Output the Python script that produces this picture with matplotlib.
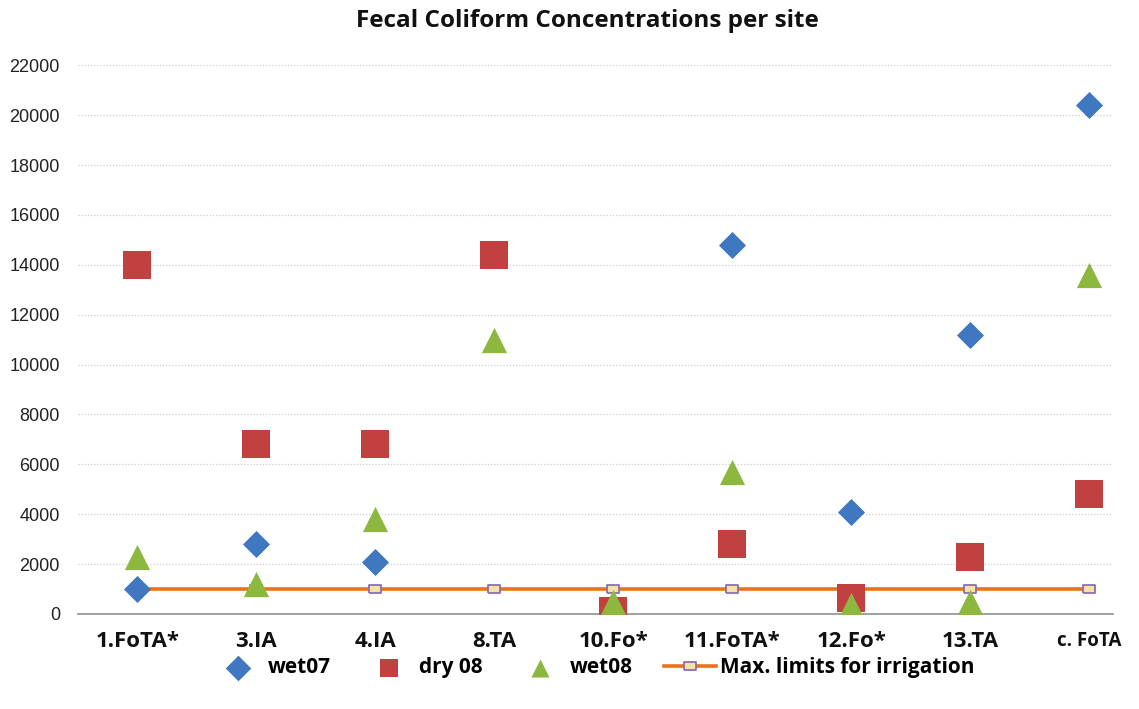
"""
Fecal coliform concentrations per sampling site,
with the maximum limit for irrigation water as a reference line.
"""

import matplotlib
matplotlib.use("Agg")
import matplotlib.pyplot as plt

# Sampling sites and measured concentrations
sites = ["1.FoTA*", "3.IA", "4.IA", "8.TA", "10.Fo*", "11.FoTA*", "12.Fo*", "13.TA", "c. FoTA"]
wet07 = [1000, 2800, 2100, None, None, 14800, 4100, 11200, 20400]
dry08 = [14000, 6800, 6800, 14400, 100, 2800, 650, 2300, 4800]
wet08 = [2300, 1200, 3800, 11000, 500, 5700, 350, 500, 13600]
max_limit = [1000] * len(sites)

y_ticks = list(range(0, 22001, 2000))

BLUE = "#3f78c1"
RED = "#c0413f"
GREEN = "#8db840"
ORANGE = "#e8731e"
PURPLE = "#8a6fb5"


def _series(values):
    """Keep only the sites that have a measurement."""
    xs = [i for i, v in enumerate(values) if v is not None]
    ys = [v for v in values if v is not None]
    return xs, ys


fig = plt.figure(figsize=(11.39, 7.09), dpi=100)
ax = fig.add_axes([0.0685, 0.134, 0.9085, 0.774])

x_idx = list(range(len(sites)))

# Reference line with small rectangular markers
rect = [(-1.7, -1), (1.7, -1), (1.7, 1), (-1.7, 1), (-1.7, -1)]
ax.plot(x_idx, max_limit, color=ORANGE, linewidth=2.6, marker=rect, markersize=9,
        markerfacecolor="#f3e2a0", markeredgecolor=PURPLE, markeredgewidth=1.3,
        label="Max. limits for irrigation", zorder=3)

xs, ys = _series(wet07)
ax.scatter(xs, ys, marker="D", s=190, color=BLUE, linewidths=0, label="wet07", zorder=4)
xs, ys = _series(dry08)
ax.scatter(xs, ys, marker="s", s=400, color=RED, linewidths=0, label="dry 08", zorder=4)
xs, ys = _series(wet08)
ax.scatter(xs, ys, marker="^", s=330, color=GREEN, linewidths=0, label="wet08", zorder=5)

ax.set_xlim(-0.5, 8.2)
ax.set_ylim(0, 22000)
ax.set_yticks(y_ticks)
ax.set_yticklabels([str(t) for t in y_ticks], fontsize=13, color="#222222",
                   family="Liberation Sans")
ax.set_xticks(x_idx)
ax.set_xticklabels(sites, fontsize=16, fontweight="bold", family="Open Sans", color="#111111")
ax.get_xticklabels()[-1].set_fontsize(13.5)
ax.tick_params(axis="both", length=0)
ax.tick_params(axis="x", pad=12)
ax.tick_params(axis="y", pad=13)

ax.grid(axis="y", color="#cfcfcf", linestyle=(0, (1, 1.5)), linewidth=0.9)
ax.set_axisbelow(True)
for side in ("left", "right", "top"):
    ax.spines[side].set_visible(False)
ax.spines["bottom"].set_color("#9a9a9a")
ax.spines["bottom"].set_linewidth(1.3)

fig.text(0.516, 0.97, "Fecal Coliform Concentrations per site", ha="center", va="center",
         fontsize=17.5, fontweight="bold", family="Open Sans", color="#111111")

handles, labels = ax.get_legend_handles_labels()
order = [1, 2, 3, 0]
leg = fig.legend([handles[i] for i in order], [labels[i] for i in order],
                 loc="center", bbox_to_anchor=(0.521, 0.058), ncol=4, frameon=False,
                 prop={"family": "Open Sans", "weight": "bold", "size": 15},
                 handlelength=2.5, handletextpad=0.2, columnspacing=1.5, scatterpoints=1,
                 borderpad=0.0)
for h in leg.legend_handles[:3]:
    h.set_sizes([170])

fig.savefig("out.png", dpi=100)
